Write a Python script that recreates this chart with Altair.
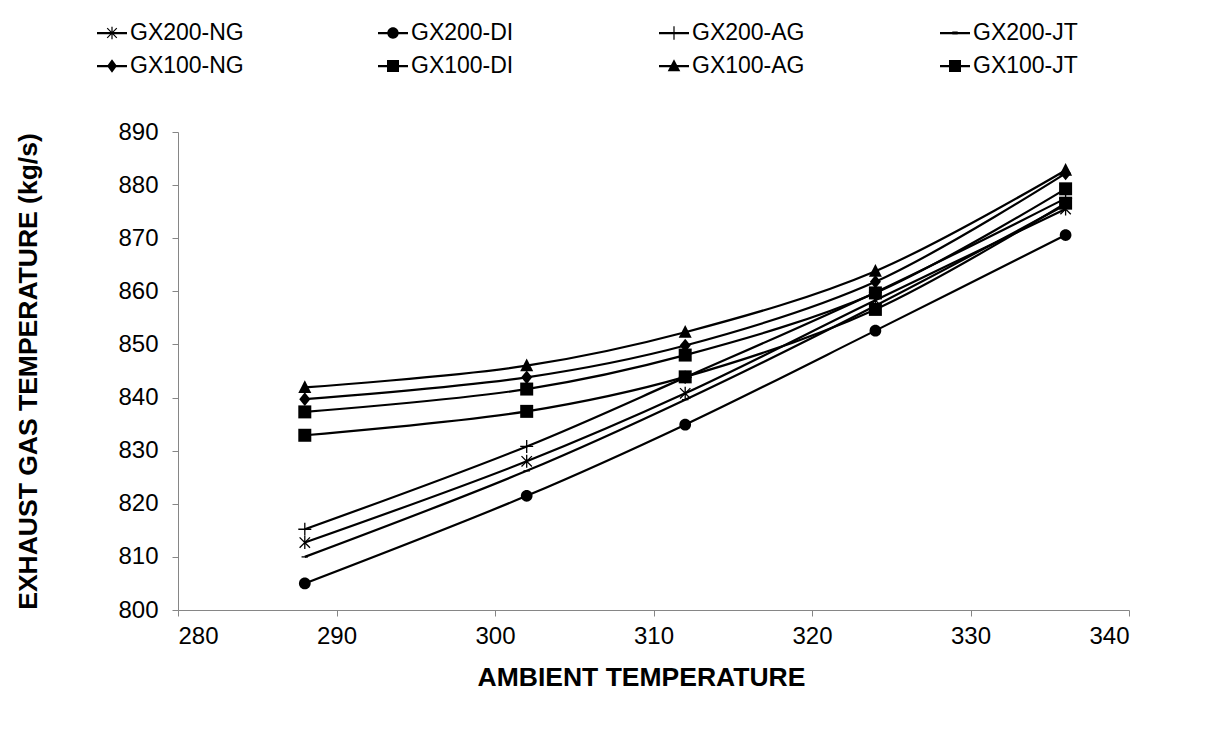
import math
import altair as alt
import pandas as pd

# Ambient temperature (x) at which each configuration was evaluated
ambient = [288, 302, 312, 324, 336]

# Exhaust gas temperature per configuration
gx200_ng = [812.7, 828.0, 840.8, 858.3, 875.5]
gx200_di = [805.0, 821.5, 834.9, 852.6, 870.6]
gx200_ag = [815.2, 830.8, 843.8, 859.8, 877.5]
gx200_jt = [810.0, 826.2, 839.6, 857.3, 876.3]
gx100_ng = [839.7, 843.8, 849.8, 861.8, 882.2]
gx100_di = [832.9, 837.4, 843.9, 856.6, 876.6]
gx100_ag = [841.9, 846.0, 852.3, 863.8, 882.8]
gx100_jt = [837.3, 841.6, 848.0, 859.7, 879.3]

series_names = ["GX200-NG", "GX200-DI", "GX200-AG", "GX200-JT",
                "GX100-NG", "GX100-DI", "GX100-AG", "GX100-JT"]
series_values = [gx200_ng, gx200_di, gx200_ag, gx200_jt,
                 gx100_ng, gx100_di, gx100_ag, gx100_jt]
open_markers = ["GX200-NG", "GX200-AG", "GX200-JT"]

rows = []
for name, vals in zip(series_names, series_values):
    for x, y in zip(ambient, vals):
        rows.append({"Series": name, "Ambient": x, "Exhaust": y,
                     "Open": name in open_markers})
df = pd.DataFrame(rows)

# Marker shapes on the plot (unit square -1..1)
circle_path = "M0.9,0A0.9,0.9,0,1,1,-0.9,0A0.9,0.9,0,1,1,0.9,0Z"
marker_paths = [
    "M-0.8,-0.8L0.8,0.8M-0.8,0.8L0.8,-0.8M0,-1L0,1",   # star
    circle_path,                                         # circle
    "M-1,0L1,0M0,-1L0,1",                                # plus
    "M-0.5,0L0.5,0",                                     # dash
    "M0,-1.05L0.85,0L0,1.05L-0.85,0Z",                   # diamond
    "M-1,-1L1,-1L1,1L-1,1Z",                             # square
    "M0,-1.1L1,0.85L-1,0.85Z",                           # triangle
    "M-1,-1L1,-1L1,1L-1,1Z",                             # square
]


def stroke_poly(x1, y1, x2, y2, t):
    """Thin filled rectangle along a segment, wound clockwise."""
    dx, dy = x2 - x1, y2 - y1
    ln = math.hypot(dx, dy)
    nx, ny = -dy / ln * t, dx / ln * t
    pts = [(x1 + nx, y1 + ny), (x2 + nx, y2 + ny),
           (x2 - nx, y2 - ny), (x1 - nx, y1 - ny)]
    area = sum(pts[i][0] * pts[(i + 1) % 4][1] - pts[(i + 1) % 4][0] * pts[i][1]
               for i in range(4))
    if area < 0:
        pts = pts[::-1]
    return "M" + "L".join(f"{px:.3f},{py:.3f}" for px, py in pts) + "Z"


# Legend keys: a short line segment with the marker drawn on it
bar = stroke_poly(-1, 0, 1, 0, 0.075)
thin = 0.04
legend_paths = [
    bar + stroke_poly(-0.32, -0.32, 0.32, 0.32, thin)
        + stroke_poly(-0.32, 0.32, 0.32, -0.32, thin)
        + stroke_poly(0, -0.42, 0, 0.42, thin),
    bar + "M0.38,0A0.38,0.38,0,1,1,-0.38,0A0.38,0.38,0,1,1,0.38,0Z",
    bar + stroke_poly(0, -0.45, 0, 0.45, thin),
    bar + "M-0.18,-0.1L0.18,-0.1L0.18,0.1L-0.18,0.1Z",
    bar + "M0,-0.45L0.33,0L0,0.45L-0.33,0Z",
    bar + "M-0.4,-0.4L0.4,-0.4L0.4,0.4L-0.4,0.4Z",
    bar + "M0,-0.45L0.42,0.35L-0.42,0.35Z",
    bar + "M-0.4,-0.4L0.4,-0.4L0.4,0.4L-0.4,0.4Z",
]

FONT = "Liberation Sans"

x_enc = alt.X("Ambient:Q",
              scale=alt.Scale(domain=[280, 340], nice=False, zero=False),
              axis=alt.Axis(values=list(range(280, 341, 10)),
                            title="AMBIENT TEMPERATURE",
                            titleX=463, titleY=67, titleAlign="center",
                            titleBaseline="middle"))
y_enc = alt.Y("Exhaust:Q",
              scale=alt.Scale(domain=[800, 890], nice=False, zero=False),
              axis=alt.Axis(values=list(range(800, 891, 10)),
                            title="EXHAUST GAS TEMPERATURE (kg/s)",
                            titleX=-150, titleY=239, titleAlign="center",
                            titleBaseline="middle", titleAngle=270,
                            labelPadding=14))

base = alt.Chart(df)

lines = base.mark_line(interpolate="catmull-rom", color="black",
                       strokeWidth=2.2).encode(
    x=x_enc, y=y_enc, detail="Series:N")

shape_scale = alt.Scale(domain=series_names, range=marker_paths)

filled_pts = base.transform_filter("!datum.Open").mark_point(
    filled=True, color="black", size=169, opacity=1).encode(
    x="Ambient:Q", y="Exhaust:Q",
    shape=alt.Shape("Series:N", scale=shape_scale, legend=None))

open_pts = base.transform_filter("datum.Open").mark_point(
    filled=False, color="black", size=169, strokeWidth=1.3, opacity=1).encode(
    x="Ambient:Q", y="Exhaust:Q",
    shape=alt.Shape("Series:N", scale=shape_scale, legend=None))

legend_layer = base.mark_point(filled=True, opacity=0, color="black").encode(
    x="Ambient:Q", y="Exhaust:Q",
    shape=alt.Shape("Series:N",
                    scale=alt.Scale(domain=series_names, range=legend_paths),
                    legend=alt.Legend(
                        title=None, orient="none", legendX=-81, legendY=-114,
                        direction="horizontal",
                        columns=4, gridAlign="all", columnPadding=134,
                        rowPadding=6, symbolSize=900, symbolOpacity=1,
                        symbolFillColor="black", symbolStrokeColor="black",
                        symbolStrokeWidth=0, labelFont=FONT, labelFontSize=23,
                        labelColor="black", labelOffset=3, labelLimit=300)))

chart = alt.layer(lines, filled_pts, open_pts, legend_layer).resolve_scale(
    shape="independent"
).properties(
    width=951, height=478,
    autosize=alt.AutoSizeParams(type="none"),
    padding={"left": 178, "top": 132, "right": 82, "bottom": 146},
    background="white",
).configure_view(stroke=None).configure_axis(
    grid=False, domainColor="#868686", tickColor="#868686", tickSize=6,
    labelFont=FONT, labelFontSize=24, labelColor="black", labelPadding=8,
    titleFont=FONT, titleFontSize=26.5, titleFontWeight="bold",
    titleColor="black",
)

chart.save("out.html", embed_options={"renderer": "svg", "actions": False})
